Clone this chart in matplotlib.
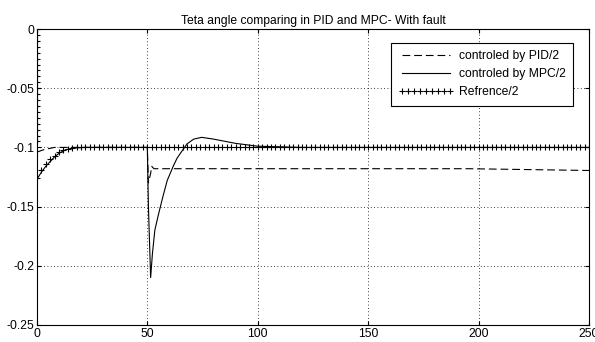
import numpy as np
import matplotlib
matplotlib.use("Agg")
import matplotlib.pyplot as plt

plt.rcParams["font.family"] = ["Liberation Sans", "DejaVu Sans"]
plt.rcParams["font.size"] = 8.7

# PID response (dashed)
t_pid = [0, 3, 8, 50, 50.5, 51.5, 52, 53, 195, 250]
y_pid = [-0.104, -0.102, -0.1, -0.1, -0.13, -0.122, -0.116, -0.118, -0.118, -0.1195]

# MPC response (solid)
t_mpc = [0, 2, 4, 6, 8, 10, 13, 17, 22, 50, 50.5, 51.5, 52.3, 53.4, 55, 57, 59,
         61.7, 63.5, 65.5, 68, 71, 74.6, 80, 90, 100, 120, 250]
y_mpc = [-0.127, -0.121, -0.116, -0.112, -0.108, -0.105, -0.102, -0.1005, -0.1,
         -0.1, -0.15, -0.21, -0.19, -0.17, -0.157, -0.142, -0.128, -0.116,
         -0.109, -0.1036, -0.097, -0.093, -0.0915, -0.093, -0.0966, -0.099,
         -0.1, -0.1]

# reference: samples stacked at t=0 (seen along the y axis), then every 2 time units
t_ref0 = [0] * 20
y_ref0 = [0, -0.005, -0.01, -0.015, -0.02, -0.025, -0.03, -0.035, -0.04, -0.045,
          -0.05, -0.055, -0.06, -0.065, -0.07, -0.075, -0.08, -0.085, -0.09, -0.095]
t_ref = list(t_ref0) + list(np.arange(0, 251, 2))
y_ref_start = [-0.126, -0.119, -0.114, -0.110, -0.107, -0.104, -0.102,
               -0.101, -0.1005, -0.1]
y_ref = y_ref0 + y_ref_start + [-0.1] * (126 - len(y_ref_start))

fig = plt.figure(figsize=(5.95, 3.42), dpi=100)
ax = fig.add_axes([0.062, 0.05, 0.928, 0.865])

ax.plot(t_pid, y_pid, color="k", lw=0.8, dashes=(7, 3.5), label="controled by PID/2")
ax.plot(t_mpc, y_mpc, color="k", lw=0.8, label="controled by MPC/2")
ax.plot(t_ref, y_ref, color="k", ls="none", marker="+", ms=5, mew=0.8,
        label="Refrence/2")

ax.set_xlim(0, 250)
ax.set_ylim(-0.25, 0)
ax.set_xticks([0, 50, 100, 150, 200, 250])
ax.set_yticks([-0.25, -0.2, -0.15, -0.1, -0.05, 0])
ax.set_yticklabels(["-0.25", "-0.2", "-0.15", "-0.1", "-0.05", "0"])
ax.grid(True, color="k", ls=(0, (1, 3)), lw=0.6)
ax.tick_params(direction="in", length=3, top=True, right=True, pad=2)
for s in ax.spines.values():
    s.set_linewidth(0.8)

ax.set_title("Teta angle comparing in PID and MPC- With fault", fontsize=8.7, pad=4)

leg = ax.legend(loc="upper right", bbox_to_anchor=(0.971, 0.953), borderaxespad=0,
                frameon=True, fancybox=False, edgecolor="k", framealpha=1,
                numpoints=9, handlelength=4.6, borderpad=0.6, labelspacing=0.5,
                handletextpad=0.4)
leg.get_frame().set_linewidth(0.8)

fig.savefig("out.png", dpi=100)
